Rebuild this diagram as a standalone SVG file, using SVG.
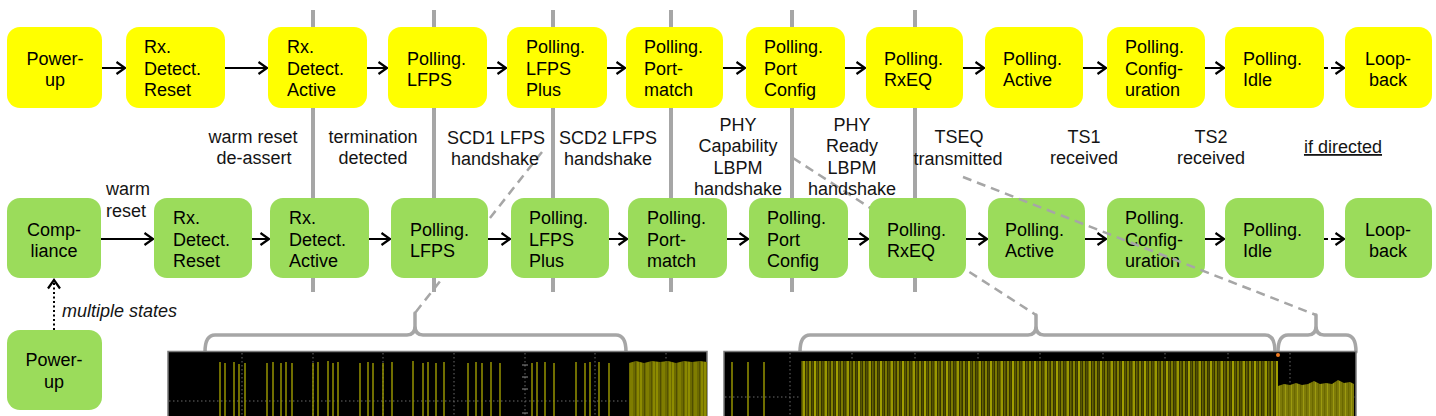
<svg xmlns="http://www.w3.org/2000/svg" width="1436" height="416" viewBox="0 0 1436 416">
<style>
.node text{font-family:"Liberation Sans",Arial,sans-serif;font-size:18px;fill:#000}
.y rect{fill:#FFFF00}
.g rect{fill:#9BDC5B}
.c{text-anchor:middle}
.lbl{font-family:"Liberation Sans",Arial,sans-serif;font-size:18px;fill:#141414;text-anchor:middle}
.lbs{font-family:"Liberation Sans",Arial,sans-serif;font-size:18px;fill:#141414;text-anchor:start}
.arrow{stroke:#000;stroke-width:2;fill:none;marker-end:url(#ah)}
.vl{stroke:#A6A6A6;stroke-width:4}
.dash{stroke:#A6A6A6;stroke-width:2.5;stroke-dasharray:9 6;fill:none}
.brace{stroke:#A6A6A6;stroke-width:3.5;fill:none;stroke-linecap:round;stroke-linejoin:round}
.grid{stroke:#6a6a6a;stroke-width:1;stroke-dasharray:1.5 2.5}
</style>
<defs>
<marker id="ah" markerUnits="userSpaceOnUse" markerWidth="16" markerHeight="16" refX="10" refY="7" orient="auto" viewBox="0 0 16 16">
<path d="M1.5,1 L10,7 L1.5,13" fill="none" stroke="#000" stroke-width="2.2" stroke-dasharray="none"/>
</marker>
<pattern id="dense" width="22" height="70" patternUnits="userSpaceOnUse">
<rect width="22" height="70" fill="#363400"/>
<rect x="0" width="2" height="70" fill="#a09e00"/>
<rect x="2.5" width="1.5" height="70" fill="#5a5800"/>
<rect x="5" width="2" height="70" fill="#7c7a00"/>
<rect x="8" width="1.5" height="70" fill="#535100"/>
<rect x="10.5" width="2.5" height="70" fill="#9a9800"/>
<rect x="14" width="1.5" height="70" fill="#666400"/>
<rect x="17" width="2" height="70" fill="#858300"/>
<rect x="20" width="1.2" height="70" fill="#4e4c00"/>
</pattern>
<pattern id="dense2" width="16" height="70" patternUnits="userSpaceOnUse">
<rect width="16" height="70" fill="#6c6a00"/>
<rect x="0" width="2" height="70" fill="#8e8c00"/>
<rect x="4" width="1" height="70" fill="#4f4d00"/>
<rect x="6" width="3" height="70" fill="#7f7d00"/>
<rect x="11" width="1" height="70" fill="#555300"/>
<rect x="13" width="2" height="70" fill="#8a8800"/>
</pattern>
<pattern id="low" width="6" height="40" patternUnits="userSpaceOnUse">
<rect width="6" height="40" fill="#7d7a08"/>
<rect x="1" width="1" height="40" fill="#9c9a10"/>
<rect x="4" width="1.2" height="40" fill="#6a6800"/>
</pattern>
</defs>

<rect width="1436" height="416" fill="#fff"/>

<g id="markers">
<line class="vl" x1="313" y1="10" x2="313" y2="292"/>
<line class="vl" x1="434" y1="10" x2="434" y2="292"/>
<line class="vl" x1="553" y1="10" x2="553" y2="292"/>
<line class="vl" x1="671" y1="10" x2="671" y2="292"/>
<line class="vl" x1="792" y1="10" x2="792" y2="292"/>
<line class="vl" x1="915" y1="10" x2="915" y2="292"/>
</g>

<g id="callouts-back">
<line class="dash" x1="542" y1="152" x2="415" y2="313"/>
<line class="dash" x1="793" y1="158" x2="1036" y2="315"/>
</g>

<g id="connectors">
<line class="arrow" x1="102" y1="68" x2="125" y2="68"/>
<line class="arrow" x1="225" y1="68" x2="267" y2="68"/>
<line class="arrow" x1="367" y1="68" x2="387" y2="68"/>
<line class="arrow" x1="487" y1="68" x2="506" y2="68"/>
<line class="arrow" x1="607" y1="68" x2="625" y2="68"/>
<line class="arrow" x1="723" y1="68" x2="745" y2="68"/>
<line class="arrow" x1="845" y1="68" x2="865" y2="68"/>
<line class="arrow" x1="963" y1="68" x2="984" y2="68"/>
<line class="arrow" x1="1083" y1="68" x2="1106" y2="68"/>
<line class="arrow" x1="1205" y1="68" x2="1224" y2="68"/>
<path class="arrow" d="M1324,68H1328M1331,68H1344"/>
<line class="arrow" x1="101" y1="239" x2="153" y2="239"/>
<line class="arrow" x1="252" y1="239" x2="269" y2="239"/>
<line class="arrow" x1="369" y1="239" x2="390" y2="239"/>
<line class="arrow" x1="488" y1="239" x2="510" y2="239"/>
<line class="arrow" x1="609" y1="239" x2="627" y2="239"/>
<line class="arrow" x1="727" y1="239" x2="748" y2="239"/>
<line class="arrow" x1="848" y1="239" x2="868" y2="239"/>
<line class="arrow" x1="966" y1="239" x2="987" y2="239"/>
<line class="arrow" x1="1085" y1="239" x2="1106" y2="239"/>
<line class="arrow" x1="1205" y1="239" x2="1224" y2="239"/>
<path class="arrow" d="M1324,239H1328M1331,239H1344"/>
<line class="arrow" x1="54" y1="330" x2="54" y2="280" stroke-dasharray="2 2.5"/>
</g>

<g id="t-powerup" class="node y"><rect x="7" y="27" width="95" height="81" rx="13"/><text class="c" x="55" y="64.5">Power-</text><text class="c" x="55" y="86">up</text></g>
<g id="t-rxdetect-reset" class="node y"><rect x="126" y="27" width="99" height="81" rx="13"/><text x="144" y="53">Rx.</text><text x="144" y="75">Detect.</text><text x="144" y="96">Reset</text></g>
<g id="t-rxdetect-active" class="node y"><rect x="268" y="27" width="99" height="81" rx="13"/><text x="287" y="53">Rx.</text><text x="287" y="75">Detect.</text><text x="287" y="96">Active</text></g>
<g id="t-polling-lfps" class="node y"><rect x="388" y="27" width="99" height="81" rx="13"/><text x="407" y="64.5">Polling.</text><text x="407" y="86">LFPS</text></g>
<g id="t-polling-lfpsplus" class="node y"><rect x="507" y="27" width="100" height="81" rx="13"/><text x="526" y="53">Polling.</text><text x="526" y="75">LFPS</text><text x="526" y="96">Plus</text></g>
<g id="t-polling-portmatch" class="node y"><rect x="626" y="27" width="97" height="81" rx="13"/><text x="644" y="53">Polling.</text><text x="644" y="75">Port-</text><text x="644" y="96">match</text></g>
<g id="t-polling-portconfig" class="node y"><rect x="746" y="27" width="99" height="81" rx="13"/><text x="764" y="53">Polling.</text><text x="764" y="75">Port</text><text x="764" y="96">Config</text></g>
<g id="t-polling-rxeq" class="node y"><rect x="866" y="27" width="97" height="81" rx="13"/><text x="884" y="64.5">Polling.</text><text x="884" y="86">RxEQ</text></g>
<g id="t-polling-active" class="node y"><rect x="985" y="27" width="98" height="81" rx="13"/><text x="1003" y="64.5">Polling.</text><text x="1003" y="86">Active</text></g>
<g id="t-polling-configuration" class="node y"><rect x="1107" y="27" width="98" height="81" rx="13"/><text x="1125" y="53">Polling.</text><text x="1125" y="75">Config-</text><text x="1125" y="96">uration</text></g>
<g id="t-polling-idle" class="node y"><rect x="1225" y="27" width="99" height="81" rx="13"/><text x="1243" y="64.5">Polling.</text><text x="1243" y="86">Idle</text></g>
<g id="t-loopback" class="node y"><rect x="1345" y="27" width="87" height="81" rx="13"/><text class="c" x="1388" y="64.5">Loop-</text><text class="c" x="1388" y="86">back</text></g>

<g id="b-compliance" class="node g"><rect x="7" y="198" width="94" height="80" rx="13"/><text class="c" x="54" y="235.5">Comp-</text><text class="c" x="54" y="257">liance</text></g>
<g id="b-rxdetect-reset" class="node g"><rect x="154" y="198" width="98" height="80" rx="13"/><text x="173" y="224">Rx.</text><text x="173" y="246">Detect.</text><text x="173" y="267">Reset</text></g>
<g id="b-rxdetect-active" class="node g"><rect x="270" y="198" width="99" height="80" rx="13"/><text x="289" y="224">Rx.</text><text x="289" y="246">Detect.</text><text x="289" y="267">Active</text></g>
<g id="b-polling-lfps" class="node g"><rect x="391" y="198" width="97" height="80" rx="13"/><text x="410" y="235.5">Polling.</text><text x="410" y="257">LFPS</text></g>
<g id="b-polling-lfpsplus" class="node g"><rect x="511" y="198" width="98" height="80" rx="13"/><text x="529" y="224">Polling.</text><text x="529" y="246">LFPS</text><text x="529" y="267">Plus</text></g>
<g id="b-polling-portmatch" class="node g"><rect x="628" y="198" width="99" height="80" rx="13"/><text x="647" y="224">Polling.</text><text x="647" y="246">Port-</text><text x="647" y="267">match</text></g>
<g id="b-polling-portconfig" class="node g"><rect x="749" y="198" width="99" height="80" rx="13"/><text x="767" y="224">Polling.</text><text x="767" y="246">Port</text><text x="767" y="267">Config</text></g>
<g id="b-polling-rxeq" class="node g"><rect x="869" y="198" width="97" height="80" rx="13"/><text x="887" y="235.5">Polling.</text><text x="887" y="257">RxEQ</text></g>
<g id="b-polling-active" class="node g"><rect x="988" y="198" width="97" height="80" rx="13"/><text x="1005" y="235.5">Polling.</text><text x="1005" y="257">Active</text></g>
<g id="b-polling-configuration" class="node g"><rect x="1107" y="198" width="98" height="80" rx="13"/><text x="1125" y="224">Polling.</text><text x="1125" y="246">Config-</text><text x="1125" y="267">uration</text></g>
<g id="b-polling-idle" class="node g"><rect x="1225" y="198" width="99" height="80" rx="13"/><text x="1243" y="235.5">Polling.</text><text x="1243" y="257">Idle</text></g>
<g id="b-loopback" class="node g"><rect x="1345" y="198" width="87" height="80" rx="13"/><text class="c" x="1388" y="235.5">Loop-</text><text class="c" x="1388" y="257">back</text></g>
<g id="b-powerup" class="node g"><rect x="7" y="330" width="95" height="80" rx="13"/><text class="c" x="54" y="366">Power-</text><text class="c" x="54" y="388">up</text></g>

<g id="callouts-front">
<line class="dash" x1="963" y1="177" x2="1316" y2="315"/>
</g>

<g id="labels">
<text class="lbl" x="253" y="143">warm reset</text><text class="lbl" x="254" y="164">de-assert</text>
<text class="lbl" x="373" y="143">termination</text><text class="lbl" x="373" y="164">detected</text>
<text class="lbl" x="496" y="144">SCD1 LFPS</text><text class="lbl" x="495" y="165">handshake</text>
<text class="lbl" x="608" y="144">SCD2 LFPS</text><text class="lbl" x="608" y="165">handshake</text>
<text class="lbl" x="738" y="131">PHY</text><text class="lbl" x="738" y="152">Capability</text><text class="lbl" x="738" y="174">LBPM</text><text class="lbl" x="738" y="195">handshake</text>
<text class="lbl" x="852" y="131">PHY</text><text class="lbl" x="852" y="152">Ready</text><text class="lbl" x="852" y="174">LBPM</text><text class="lbl" x="852" y="195">handshake</text>
<text class="lbl" x="959" y="143">TSEQ</text><text class="lbl" x="958" y="165">transmitted</text>
<text class="lbl" x="1084" y="143">TS1</text><text class="lbl" x="1084" y="164">received</text>
<text class="lbl" x="1211" y="143">TS2</text><text class="lbl" x="1211" y="164">received</text>
<text class="lbl" x="1343" y="153" text-decoration="underline">if directed</text>
<text class="lbs" x="106" y="195">warm</text><text class="lbs" x="106" y="217">reset</text>
<text class="lbs" x="62" y="317" font-style="italic" fill="#12122a">multiple states</text>
</g>

<g id="braces">
<path class="brace" d="M205,352 Q205,335 215,335 L407,335 Q415,335 415,326 L415,313 M415,326 Q415,335 423,335 L616,335 Q626,335 626,352"/>
<path class="brace" d="M800,352 Q800,335 810,335 L1028,335 Q1036,335 1036,326 L1036,315 M1036,326 Q1036,335 1044,335 L1265,335 Q1275,335 1275,352"/>
<path class="brace" d="M1278,352 Q1278,335 1288,335 L1308,335 Q1316,335 1316,326 L1316,315 M1316,326 Q1316,335 1324,335 L1346,335 Q1356,335 1356,352"/>
</g>

<g id="scope-left">
<rect x="168" y="351.5" width="539" height="70" fill="#000" stroke="#7a7a7a" stroke-width="1.5"/>
<g class="grid">
<line x1="242" y1="353" x2="242" y2="416"/><line x1="313" y1="353" x2="313" y2="416"/><line x1="383" y1="353" x2="383" y2="416"/><line x1="454" y1="353" x2="454" y2="416"/><line x1="525" y1="353" x2="525" y2="416"/><line x1="595" y1="353" x2="595" y2="416"/><line x1="666" y1="353" x2="666" y2="416"/>
<line x1="169" y1="401" x2="706" y2="401"/>
</g>
<path d="M522,365h6M522,377h6M522,389h6M522,413h6" stroke="#8a8a8a" stroke-width="1"/>
<path stroke="#959300" stroke-width="1.5" d="M220,362V416M225,363V416M234,362V416M239,364V416M245,363V416M267,363V416M273,362V416M281,363V416M286,362V416M292,363V416M313,363V416M318,362V416M328,361V416M333,363V416M338,362V416M360,363V416M368,362V416M373,363V416M383,363V416M392,362V416M413,361V416M423,363V416M428,362V416M436,363V416M444,362V416M468,363V416M476,362V416M482,363V416M491,362V416M500,363V416M532,363V416M537,362V416M545,362V416M554,363V416M576,362V416M585,363V416M590,362V416M599,362V416M609,363V416"/>
<polygon points="629,363 636,361 644,363 652,361 660,362 668,361 676,363 684,361 692,362 700,361 707,362 707,416 629,416" fill="url(#dense2)"/>
</g>

<g id="scope-right">
<rect x="724" y="351.5" width="632" height="70" fill="#000" stroke="#7a7a7a" stroke-width="1.5"/>
<g class="grid">
<line x1="790" y1="353" x2="790" y2="416"/><line x1="852" y1="353" x2="852" y2="416"/><line x1="915" y1="353" x2="915" y2="416"/><line x1="978" y1="353" x2="978" y2="416"/><line x1="1040" y1="353" x2="1040" y2="416"/><line x1="1103" y1="353" x2="1103" y2="416"/><line x1="1165" y1="353" x2="1165" y2="416"/><line x1="1228" y1="353" x2="1228" y2="416"/><line x1="1290" y1="353" x2="1290" y2="416"/>
<line x1="725" y1="397" x2="1355" y2="397"/>
</g>
<path stroke="#959300" stroke-width="1.5" d="M732,362V416M748,362V416M764,362V416"/>
<rect x="801" y="361" width="477" height="55" fill="url(#dense)"/>
<polygon points="1278,386 1284,384 1290,385 1296,383 1302,385 1308,384 1314,381 1320,384 1326,383 1332,384 1338,380 1344,383 1350,382 1354,384 1354,416 1278,416" fill="url(#low)"/>
<circle cx="1278" cy="355" r="2" fill="#f07a20"/>
</g>
</svg>
